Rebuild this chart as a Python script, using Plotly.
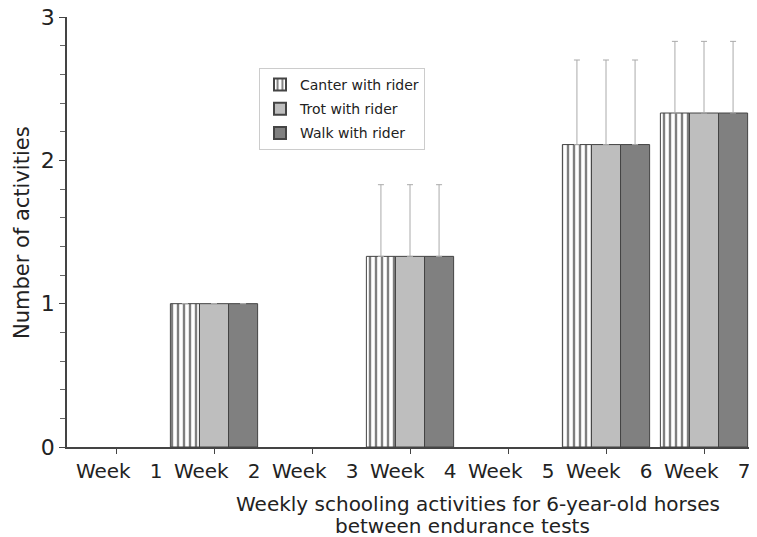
import plotly.graph_objects as go

weeks = ["Week 1", "Week 2", "Week 3", "Week 4", "Week 5", "Week 6", "Week 7"]
tick_labels = ["\u00a0Week\u00a0\u00a0\u00a0" + w.split()[1] for w in weeks]
canter = [0, 1, 0, 1.33, 0, 2.11, 2.33]
trot = [0, 1, 0, 1.33, 0, 2.11, 2.33]
walk = [0, 1, 0, 1.33, 0, 2.11, 2.33]
err = [0, 0, 0, 0.5, 0, 0.59, 0.5]
x_title = ["Weekly schooling activities for 6-year-old horses", "between endurance tests"]
y_title = "Number of activities"

FONT = "DejaVu Sans"
# page body has an 8px margin; the figure box is placed at (8, 8)
OFF = 8
W, H = 757 - OFF, 537 - OFF
L, T, R, B = 67 - OFF, 17 - OFF, 4, 90
PW, PH = W - L - R, H - T - B


def px_x(x):
    return (x - 67) / PW


def px_y(y):
    return (447 - y) / PH


def shown(vals):
    # zero-height bars are not drawn in the reference
    return [v if v else None for v in vals]


def ebar():
    return dict(type="data", array=err, symmetric=False,
                arrayminus=[0] * len(err), color="#aaaaaa", thickness=1, width=3)


line = dict(color="#444444", width=1)
fig = go.Figure()
fig.add_trace(go.Bar(name="Canter with rider", x=weeks, y=shown(canter), error_y=ebar(),
                     legendgroup="a",
                     marker=dict(color="white", line=line,
                                 pattern=dict(shape="|", fgcolor="black", bgcolor="white",
                                              size=6, solidity=0.4))))
fig.add_trace(go.Bar(name="Trot with rider", x=weeks, y=shown(trot), error_y=ebar(),
                     legendgroup="b",
                     marker=dict(color="#bebebe", line=line)))
fig.add_trace(go.Bar(name="Walk with rider", x=weeks, y=shown(walk), error_y=ebar(),
                     legendgroup="c",
                     marker=dict(color="#808080", line=line)))

fig.update_layout(
    width=W, height=H,
    margin=dict(l=L, r=R, t=T, b=B, autoexpand=False),
    paper_bgcolor="white", plot_bgcolor="white",
    barmode="group", bargap=0.11, bargroupgap=0,
    font=dict(family=FONT, size=20, color="#222222"),
    showlegend=True,
    legend=dict(x=px_x(259), y=px_y(68), xanchor="left", yanchor="top",
                bgcolor="white", bordercolor="#cccccc", borderwidth=1,
                font=dict(size=14, family=FONT), traceorder="grouped", tracegroupgap=3,
                itemsizing="constant"),
    xaxis=dict(tickmode="array", tickvals=weeks, ticktext=tick_labels, automargin=False,
               tickangle=0,
               range=[-0.5, 6.5], showline=True, linecolor="#444444", linewidth=1.5,
               ticks="outside", ticklen=5, tickcolor="#444444", showgrid=False,
               tickfont=dict(size=20, family=FONT)),
    yaxis=dict(range=[0, 3], dtick=1, showline=True, linecolor="#444444", linewidth=1.5,
               automargin=False, ticklabeloverflow="allow",
               ticks="outside", ticklen=6, tickcolor="#444444", showgrid=False,
               zeroline=False, tickfont=dict(size=22, family=FONT),
               minor=dict(dtick=0.2, ticks="outside", ticklen=5, tickcolor="#666666")),
)
for txt, cx, cy in zip(x_title, [478, 462], [504, 526]):
    fig.add_annotation(xref="paper", yref="paper", x=px_x(cx), y=px_y(cy),
                       xanchor="center", yanchor="middle", showarrow=False,
                       text=txt, font=dict(size=20, family=FONT, color="#222222"))
fig.add_annotation(xref="paper", yref="paper", x=px_x(22), y=px_y(233),
                   xanchor="center", yanchor="middle", showarrow=False, textangle=-90,
                   text=y_title, font=dict(size=21, family=FONT, color="#222222"))
fig.write_html("out.html")
